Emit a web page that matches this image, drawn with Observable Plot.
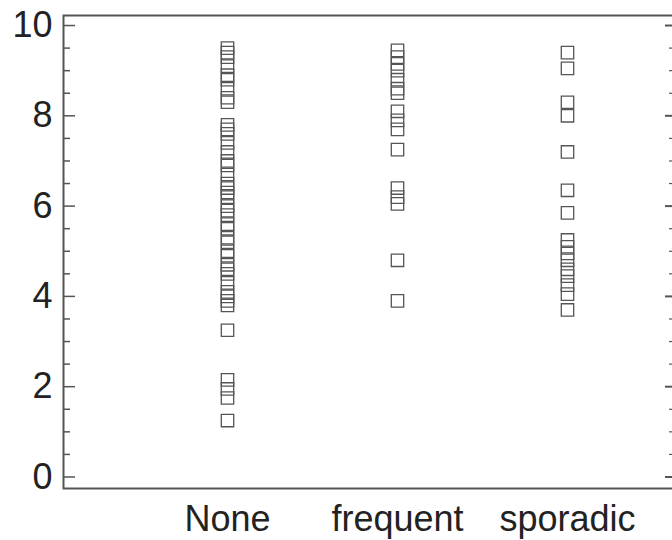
<!DOCTYPE html>
<html>
<head>
<meta charset="utf-8">
<script src="https://cdn.jsdelivr.net/npm/d3@7"></script>
<script src="https://cdn.jsdelivr.net/npm/@observablehq/plot@0.6"></script>
<style>
  html, body { margin: 0; padding: 0; background: #fff; overflow: hidden; }
</style>
</head>
<body>
<div id="chart"></div>
<script>
const categories = ["None", "frequent", "sporadic"];
const noneValues = [9.5, 9.4, 9.3, 9.1, 8.9, 8.8, 8.6, 8.4, 8.3, 7.8, 7.7, 7.6, 7.4, 7.2, 7.0, 6.9, 6.7, 6.5, 6.4, 6.3, 6.2, 6.0, 5.9, 5.8, 5.6, 5.5, 5.3, 5.2, 5.0, 4.9, 4.7, 4.6, 4.5, 4.3, 4.1, 4.0, 3.9, 3.8, 3.25, 2.15, 1.95, 1.75, 1.25];
const frequentValues = [9.45, 9.3, 9.15, 9.0, 8.8, 8.6, 8.5, 8.1, 7.9, 7.7, 7.25, 6.4, 6.2, 6.05, 4.8, 3.9];
const sporadicValues = [9.4, 9.05, 8.3, 8.0, 7.2, 6.35, 5.85, 5.25, 5.1, 4.95, 4.8, 4.6, 4.45, 4.25, 4.05, 3.7];
const yTicks = [0, 2, 4, 6, 8, 10];
const yMinorTicks = [0.5, 1, 1.5, 2.5, 3, 3.5, 4.5, 5, 5.5, 6.5, 7, 7.5, 8.5, 9, 9.5];

const seriesValues = [noneValues, frequentValues, sporadicValues];
const data = categories.flatMap((c, i) => seriesValues[i].map(v => ({category: c, value: v})));

const axisColor = "#555";
const textColor = "#222";

const chart = Plot.plot({
  width: 672,
  height: 540,
  marginLeft: 63,
  marginRight: 0,
  marginTop: 15,
  marginBottom: 52,
  style: {fontFamily: "'Liberation Sans', Arial, sans-serif", background: "#fff", color: textColor},
  x: {type: "point", domain: categories, padding: 0.791, align: 0.61, label: null},
  y: {domain: [-0.255, 10.222], label: null},
  marks: [
    Plot.frame({stroke: axisColor, strokeWidth: 2, insetRight: -4}),
    Plot.axisY(yMinorTicks, {anchor: "left", tickSize: -7, text: null, label: null, stroke: axisColor, strokeWidth: 1.5}),
    Plot.axisY(yTicks, {anchor: "left", tickSize: -12, tickPadding: 23, label: null, fontSize: 36, fill: textColor, stroke: axisColor, strokeWidth: 1.5}),
    Plot.axisY(yMinorTicks, {anchor: "right", tickSize: -4, text: null, label: null, stroke: axisColor, strokeWidth: 1.2}),
    Plot.axisY(yTicks, {anchor: "right", tickSize: -8, text: null, label: null, stroke: axisColor, strokeWidth: 2}),
    Plot.axisX({anchor: "bottom", tickSize: 0, tickPadding: 17, label: null, fontSize: 36, fill: textColor}),
    Plot.dot(data, {x: "category", y: "value", symbol: "square", r: 7, stroke: "#555", strokeWidth: 1.3, fill: "none"})
  ]
});
document.getElementById("chart").appendChild(chart);
</script>
</body>
</html>
